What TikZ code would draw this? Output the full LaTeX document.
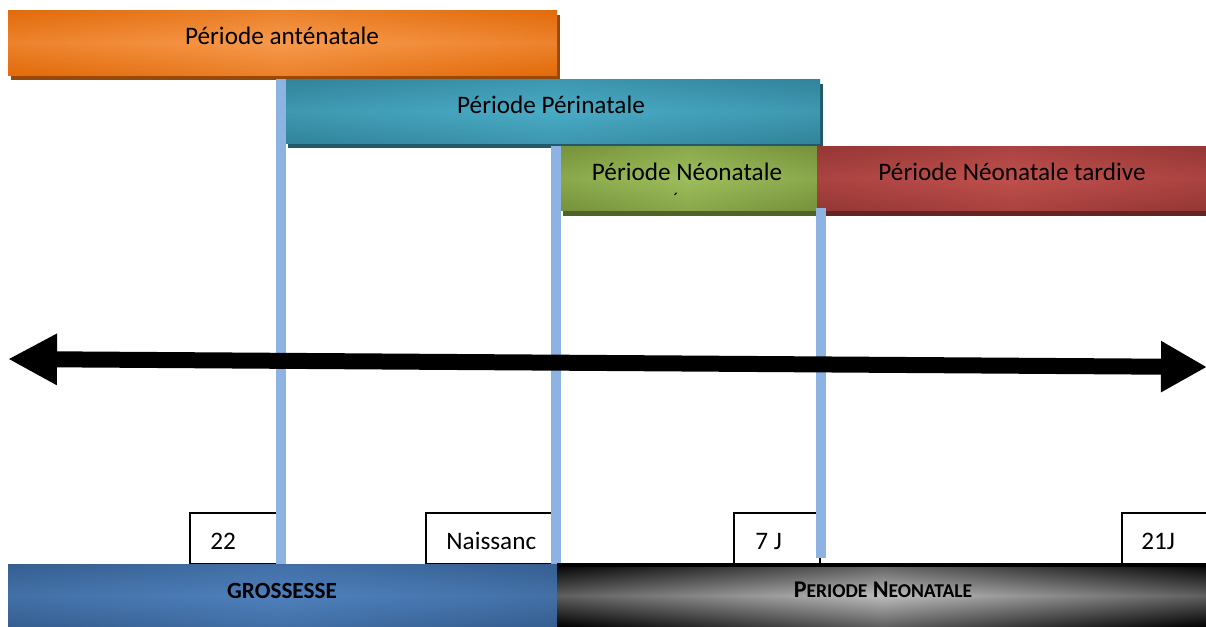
\documentclass[tikz,border=0pt]{standalone}
\usepackage{fontspec}
\setmainfont{Carlito}
\usetikzlibrary{arrows.meta}
\definecolor{orE}{HTML}{E26B0A}\definecolor{orC}{HTML}{F79A4E}\definecolor{orS}{HTML}{984807}
\definecolor{teE}{HTML}{31849B}\definecolor{teC}{HTML}{4BACC6}\definecolor{teS}{HTML}{215968}
\definecolor{grE}{HTML}{76923C}\definecolor{grC}{HTML}{9EBF5C}\definecolor{grS}{HTML}{4F6228}
\definecolor{reE}{HTML}{953735}\definecolor{reC}{HTML}{C0504D}\definecolor{reS}{HTML}{632523}
\definecolor{blE}{HTML}{365F91}\definecolor{blC}{HTML}{4F81BD}
\definecolor{bkC}{HTML}{BDBDBD}
\definecolor{vline}{HTML}{8DB3E2}
\newcommand\mybarshade[6]{%
  \shade[left color=#5,right color=#5,middle color=#6] (#1,#2) rectangle (#3,#4);
  \shade[top color=#5,bottom color=#5,middle color=#6,opacity=0.5] (#1,#2) rectangle (#3,#4);
}
\begin{document}
\begin{tikzpicture}[x=0.5pt,y=-0.5pt,
  lbl/.style={font=\fontsize{12.6}{15}\selectfont, inner sep=0pt, anchor=base},
  boldlbl/.style={font=\fontsize{11.6}{14}\selectfont\bfseries, inner sep=0pt, anchor=base},
  tick/.style={draw=black, line width=0.6pt, fill=white},
  vbar/.style={draw=vline, line width=4.6pt},
  shadowbar/.style={fill=#1}]
\useasboundingbox (0,0) rectangle (1206,627);
% top bars with shadows
\fill[shadowbar=orS] (11,15) rectangle (560,80);
\mybarshade{8}{10}{557}{75}{orE}{orC}
\fill[shadowbar=teS] (288,84) rectangle (823,148);
\mybarshade{285}{79}{820}{143}{teE}{teC}
\fill[shadowbar=grS] (563,151) rectangle (820,216);
\mybarshade{560}{146}{817}{210}{grE}{grC}
\fill[shadowbar=reS] (820,151) rectangle (1209,216);
\mybarshade{817}{146}{1209}{210}{reE}{reC}
\node[lbl] (tAnte) at (282,44) {Période anténatale};
\node[lbl] (tPeri) at (551,113) {Période Périnatale};
\node[lbl] (tNeo) at (687,180) {Période Néonatale};
\node[lbl] (tTard) at (1012,180) {Période Néonatale tardive};
\node[lbl, font=\fontsize{9}{10}\selectfont] (tAcc) at (676,205) {´};
% tick boxes
\draw[tick] (190,513) rectangle (277,564);
\draw[tick] (426,513) rectangle (553,564);
\draw[tick] (734,513) rectangle (820,564);
\draw[tick] (1122,513) rectangle (1212,564);
\node[lbl, anchor=base west] (t22) at (210,549) {22};
\node[lbl, anchor=base west] (tNai) at (446,549) {Naissanc};
\node[lbl, anchor=base west] (t7J) at (755,549) {7 J};
\node[lbl, anchor=base west] (t21J) at (1141,549) {21J};
% vertical lines
\coordinate (v1t) at (281,79);  \coordinate (v1b) at (281,564);
\coordinate (v2t) at (556,146); \coordinate (v2b) at (556,564);
\coordinate (v3t) at (821,208); \coordinate (v3b) at (821,558);
\draw[vbar] (v1t) -- (v1b);
\draw[vbar] (v2t) -- (v2b);
\draw[vbar] (v3t) -- (v3b);
% bottom bars
\mybarshade{8}{564}{557}{627}{blE}{blC}
\mybarshade{557}{564}{1209}{627}{black}{bkC}
\draw[black, line width=2pt] (557,565) -- (1209,565);
\node[boldlbl] (tGro) at (282,598) {GROSSESSE};
\node[boldlbl] (tPN) at (883,597) {{\fontsize{12}{14}\selectfont P}{\fontsize{9.8}{12}\selectfont ERIODE} {\fontsize{12}{14}\selectfont N}{\fontsize{9.8}{12}\selectfont EONATALE}};
% time arrow
\coordinate (aL) at (8,359);
\coordinate (aR) at (1207,367);
\draw[line width=8pt, {Triangle[length=24.5pt,width=24pt]}-{Triangle[length=23pt,width=24pt]}] (aL) -- (aR);
\end{tikzpicture}
\end{document}
